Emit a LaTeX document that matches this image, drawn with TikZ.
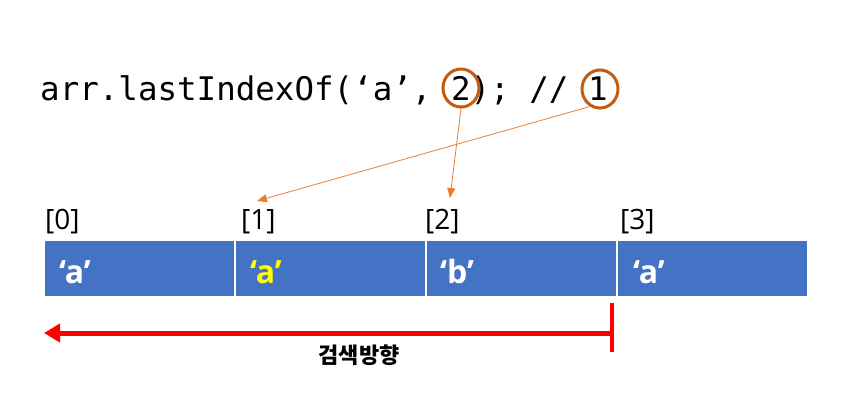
\documentclass[tikz,border=0pt]{standalone}
\usepackage{fontspec}
\setmainfont{Open Sans}
\setmonofont{DejaVu Sans Mono}
\newfontfamily\korfont{Noto Sans CJK KR}
\usetikzlibrary{arrows.meta,calc,positioning,shapes.geometric}
\definecolor{CellBlue}{HTML}{4472C4}
\definecolor{RingOrange}{HTML}{C55A11}
\definecolor{PtrOrange}{HTML}{ED7D31}
\definecolor{HiYellow}{HTML}{FFFF00}
\definecolor{ScanRed}{HTML}{FF0000}
\tikzset{cell/.style={draw=white,fill=CellBlue,line width=1pt,minimum width=190pt,minimum height=56pt,inner sep=0pt,anchor=west},celltext/.style={font=\fontsize{32}{32}\selectfont\bfseries,text=white,anchor=base west,inner sep=0pt},idx/.style={font=\fontsize{28}{28}\selectfont,anchor=south west,inner sep=0pt},ring/.style={draw=RingOrange,line width=3pt,ellipse,minimum width=36pt,minimum height=38pt},ptr/.style={-{Triangle[length=10pt,width=8pt]},draw=PtrOrange,line width=0.8pt}}
\begin{document}
\begin{tikzpicture}[x=1pt,y=-1pt]
        \useasboundingbox(0,0)rectangle(847,410);
        % call and result
        \node[font=\ttfamily\fontsize{32.5}{32.5}\selectfont,anchor=base west,inner sep=0pt](call)at(40,100){arr.lastIndexOf(‘a’, 2); // 1};
        \node[ring](ringfrom)at(461,88){};
        \node[ring](ringres)at(600,89){};
        % array cells
        \node[cell](c0)at(44,268){};
        \node[cell,right=0pt of c0](c1){};
        \node[cell,right=0pt of c1](c2){};
        \node[cell,right=0pt of c2](c3){};
        \node[celltext]at($(c0.west)+(15,15)$){‘a’};
        \node[celltext,text=HiYellow]at($(c1.west)+(15,15)$){‘a’};
        \node[celltext]at($(c2.west)+(14,15)$){‘b’};
        \node[celltext]at($(c3.west)+(16,15)$){‘a’};
        \node[idx](i0)at($(c0.north west)+(1,-5)$){[0]};
        \node[idx](i1)at($(c1.north west)+(6,-5)$){[1]};
        \node[idx](i2)at($(c2.north west)+(-1,-5)$){[2]};
        \node[idx](i3)at($(c3.north west)+(3,-5)$){[3]};
        % pointers
        \coordinate(t2)at(450,198);
        \coordinate(t1)at(257,201);
        \draw[ptr](ringfrom.south)--(t2);
        \draw[ptr](ringres.-120)--(t1);
        % search direction
        \coordinate(scanstart)at(612,333);
        \coordinate(scanend)at(44,333);
        \draw[ScanRed,line width=4pt](612,303)--(612,352);
        \draw[-{Triangle[length=16pt,width=18pt]},ScanRed,line width=5pt](scanstart)--(scanend);
        \node[font=\korfont\bfseries\fontsize{22}{22}\selectfont](dir)at(359,355){검색방향};
      \end{tikzpicture}
\end{document}
